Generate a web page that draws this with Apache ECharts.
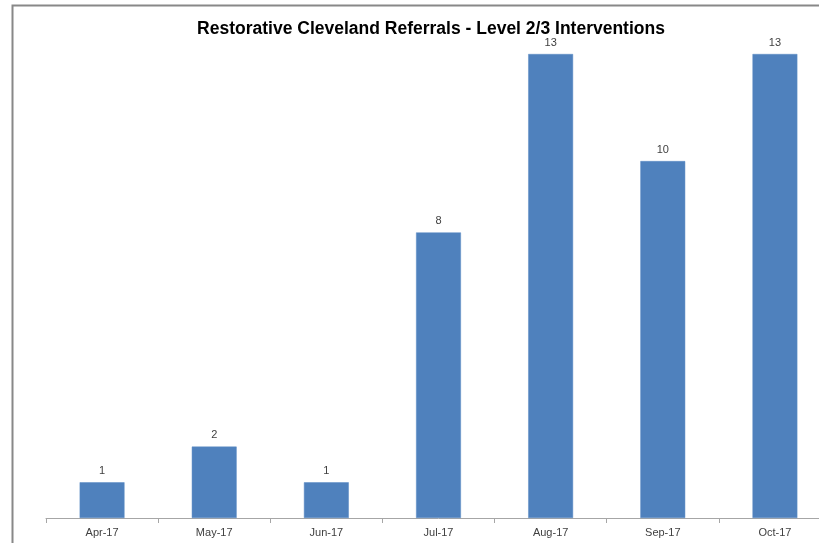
<!DOCTYPE html>
<html><head><meta charset="utf-8">
<script src="https://cdn.jsdelivr.net/npm/echarts@6/dist/echarts.min.js"></script>
<style>html,body{margin:0;padding:0;background:#fff;overflow:hidden;width:819px;height:543px}#c{width:831px;height:543px}</style>
</head><body><div id="c"></div>
<script>
var categories = ['Apr-17','May-17','Jun-17','Jul-17','Aug-17','Sep-17','Oct-17'];
var referrals = [1, 2, 1, 8, 13, 10, 13];
var titleText = 'Restorative Cleveland Referrals - Level 2/3 Interventions';

var chart = echarts.init(document.getElementById('c'));
chart.setOption({
  animation: false,
  backgroundColor: '#fff',
  title: {
    text: titleText, left: 426, top: 15, textAlign: 'center',
    textStyle: {fontFamily: 'Liberation Sans, sans-serif', fontWeight: 'bold', fontSize: 17.5, color: '#000'}
  },
  graphic: [{
    type: 'rect', shape: {x: 12.5, y: 5.5, width: 900, height: 700},
    style: {fill: 'none', stroke: '#888', lineWidth: 2}, silent: true
  }],
  grid: {left: 46, top: 54, right: 0, bottom: 25},
  xAxis: {
    type: 'category', data: categories,
    axisLine: {lineStyle: {color: '#a6a6a6', width: 1}},
    axisTick: {show: true, length: 5, lineStyle: {color: '#a6a6a6'}},
    axisLabel: {color: '#404040', fontFamily: 'Liberation Sans, sans-serif', fontSize: 11, margin: 9}
  },
  yAxis: {type: 'value', min: 0, max: 13, show: false, splitLine: {show: false}},
  series: [{
    type: 'bar', data: referrals, barWidth: '40%',
    itemStyle: {color: '#4f81bd', borderColor: '#5a8ac4', borderWidth: 0.5},
    label: {show: true, position: 'top', distance: 6, color: '#404040', fontFamily: 'Liberation Sans, sans-serif', fontSize: 11}
  }]
});
</script></body></html>
